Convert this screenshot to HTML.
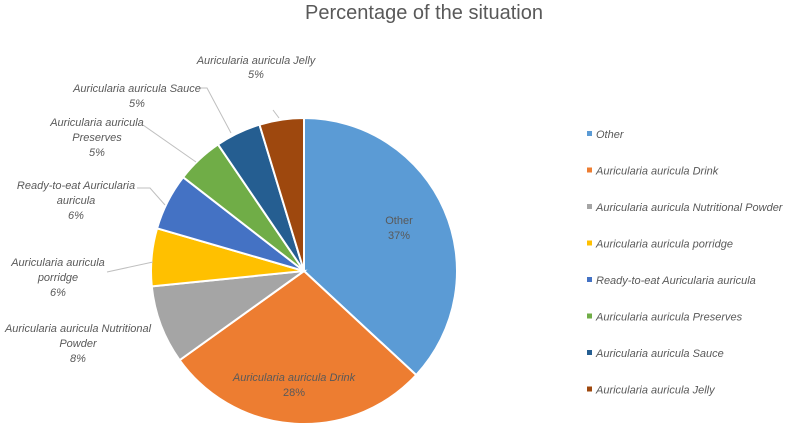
<!DOCTYPE html>
<html><head><style>
body{margin:0;background:#fff;width:788px;height:424px;overflow:hidden;font-family:"Liberation Sans",sans-serif}
svg text{font-family:"Liberation Sans",sans-serif}
</style></head><body>
<svg id="s" width="788" height="424" xmlns="http://www.w3.org/2000/svg">
<text x="424" y="19" font-size="20" fill="#595959" text-anchor="middle">Percentage of the situation</text>
<g id="pie"></g>
<g stroke="#bfbfbf" stroke-width="1" fill="none">
<polyline points="273,110 279,118"/>
<polyline points="200,88 207,88 231,133"/>
<polyline points="143,125 196,162"/>
<polyline points="137,188 150,188 165,205"/>
<polyline points="107,272 153,262"/>
</g>
<g font-size="11" fill="#595959" font-style="italic" text-anchor="middle">
<text x="256" y="64">Auricularia auricula Jelly</text><text x="256" y="78">5%</text>
<text x="137" y="92">Auricularia auricula Sauce</text><text x="137" y="107">5%</text>
<text x="97" y="126">Auricularia auricula</text><text x="97" y="141">Preserves</text><text x="97" y="156">5%</text>
<text x="76" y="189">Ready-to-eat Auricularia</text><text x="76" y="204">auricula</text><text x="76" y="219">6%</text>
<text x="58" y="266">Auricularia auricula</text><text x="58" y="281">porridge</text><text x="58" y="296">6%</text>
<text x="78" y="332">Auricularia auricula Nutritional</text><text x="78" y="347">Powder</text><text x="78" y="362">8%</text>
<text x="399" y="224" font-style="normal">Other</text><text x="399" y="239" font-style="normal">37%</text>
<text x="294" y="381">Auricularia auricula Drink</text><text x="294" y="396" font-style="normal">28%</text>
</g>
<g id="leg" font-size="11" fill="#595959" font-style="italic"></g>
</svg>
<script>
var cx=304,cy=271,r=153;
var v=[36.9,28.2,8.3,6.1,6.0,5.0,4.8,4.7];
var c=["#5b9bd5","#ed7d31","#a5a5a5","#ffc000","#4472c4","#70ad47","#255e91","#9e480e"];
var names=["Other","Auricularia auricula Drink","Auricularia auricula Nutritional Powder","Auricularia auricula porridge","Ready-to-eat Auricularia auricula","Auricularia auricula Preserves","Auricularia auricula Sauce","Auricularia auricula Jelly"];
var tot=v.reduce((a,b)=>a+b),a=0,h="";
function pt(t){var q=t/tot*2*Math.PI;return [cx+r*Math.sin(q),cy-r*Math.cos(q)];}
for(var i=0;i<v.length;i++){var p1=pt(a),p2=pt(a+v[i]);var big=v[i]/tot>0.5?1:0;
h+='<path d="M'+cx+','+cy+' L'+p1[0]+','+p1[1]+' A'+r+','+r+' 0 '+big+' 1 '+p2[0]+','+p2[1]+' Z" fill="'+c[i]+'" stroke="#fff" stroke-width="2"/>';a+=v[i];}
document.getElementById("pie").innerHTML=h;
var lg="";for(var i=0;i<8;i++){var y=137+i*36.5;lg+='<rect x="587" y="'+(y-6)+'" width="5" height="5" fill="'+c[i]+'"/><text x="596" y="'+(y+1)+'">'+names[i]+'</text>';}
document.getElementById("leg").innerHTML=lg;
</script>
</body></html>
